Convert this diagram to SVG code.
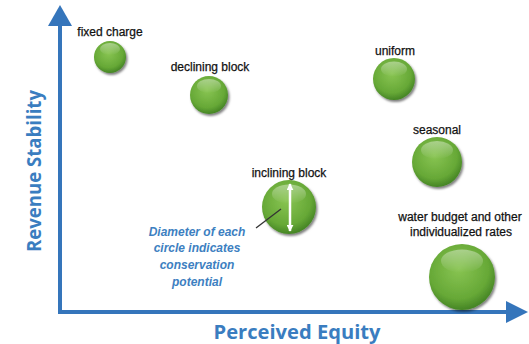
<svg xmlns="http://www.w3.org/2000/svg" width="529" height="344" viewBox="0 0 529 344">
<defs>
<radialGradient id="ball" cx="0.45" cy="0.38" r="0.65">
<stop offset="0" stop-color="#88c452"/>
<stop offset="0.7" stop-color="#66a836"/>
<stop offset="1" stop-color="#3f7e22"/>
</radialGradient>
<linearGradient id="gloss" x1="0" y1="0" x2="0" y2="1">
<stop offset="0" stop-color="#ffffff" stop-opacity="0.4"/>
<stop offset="1" stop-color="#ffffff" stop-opacity="0"/>
</linearGradient>
<filter id="sh" x="-30%" y="-30%" width="160%" height="160%">
<feDropShadow dx="1.5" dy="2" stdDeviation="1.2" flood-color="#000" flood-opacity="0.5"/>
</filter>
<marker id="wa" viewBox="0 0 10 10" refX="9" refY="5" markerWidth="7" markerHeight="7" orient="auto-start-reverse" markerUnits="userSpaceOnUse">
<path d="M0,0 L10,5 L0,10 z" fill="#ffffff"/>
</marker>
</defs>
<style>
.lbl{font-family:"Liberation Sans",Arial,sans-serif;font-size:12px;fill:#111111;text-anchor:middle;stroke:#111111;stroke-width:0.25}
.ax{font-family:"Open Sans","Liberation Sans",sans-serif;font-weight:bold;font-size:19px;fill:#3a7dc0;text-anchor:middle}
.note{font-family:"Liberation Sans",Arial,sans-serif;font-weight:bold;font-style:italic;font-size:12px;fill:#3d7fc1;text-anchor:middle}
.ball{fill:url(#ball);filter:url(#sh)}
.gl{fill:url(#gloss)}
.axis{stroke:#3575bb;stroke-width:4;fill:none}
</style>
<g id="axes">
<line class="axis" x1="60" y1="22" x2="60" y2="312"/>
<line class="axis" x1="58" y1="312" x2="510" y2="312"/>
<path d="M48,26 L60,5 L72,26 z" fill="#3575bb"/>
<path d="M506,301 L528,312 L506,323 z" fill="#3575bb"/>
<text class="ax" transform="translate(41,171) rotate(-90)" textLength="162" lengthAdjust="spacingAndGlyphs">Revenue Stability</text>
<text class="ax" x="297" y="339" textLength="167" lengthAdjust="spacingAndGlyphs">Perceived Equity</text>
</g>
<g id="fixed-charge">
<circle class="ball" cx="110" cy="57" r="16"/>
<ellipse class="gl" cx="110" cy="49" rx="10" ry="6"/>
<text class="lbl" x="110" y="36">fixed charge</text>
</g>
<g id="declining-block">
<circle class="ball" cx="209" cy="95" r="19"/>
<ellipse class="gl" cx="209" cy="86" rx="12" ry="7"/>
<text class="lbl" x="210" y="71">declining block</text>
</g>
<g id="uniform">
<circle class="ball" cx="394" cy="79" r="21"/>
<ellipse class="gl" cx="394" cy="69" rx="13" ry="7.5"/>
<text class="lbl" x="395" y="55">uniform</text>
</g>
<g id="seasonal">
<circle class="ball" cx="437" cy="162" r="25"/>
<ellipse class="gl" cx="437" cy="150" rx="16" ry="9"/>
<text class="lbl" x="437" y="134">seasonal</text>
</g>
<g id="inclining-block">
<circle class="ball" cx="289" cy="207" r="27"/>
<ellipse class="gl" cx="289" cy="194" rx="17" ry="9.5"/>
<line x1="290" y1="184" x2="290" y2="231" stroke="#ffffff" stroke-width="2.5" marker-start="url(#wa)" marker-end="url(#wa)"/>
<text class="lbl" x="289" y="177">inclining block</text>
</g>
<g id="water-budget">
<circle class="ball" cx="462" cy="277" r="33"/>
<ellipse class="gl" cx="462" cy="261" rx="21" ry="11.5"/>
<text class="lbl" x="460" y="221">water budget and other</text>
<text class="lbl" x="461" y="236">individualized rates</text>
</g>
<g id="note">
<text class="note" x="197" y="236">Diameter of each</text>
<text class="note" x="197" y="252">circle indicates</text>
<text class="note" x="197" y="269">conservation</text>
<text class="note" x="197" y="286">potential</text>
</g>
<g id="connectors">
<line x1="256" y1="228" x2="281" y2="209" stroke="#333333" stroke-width="1.3"/>
</g>
</svg>
